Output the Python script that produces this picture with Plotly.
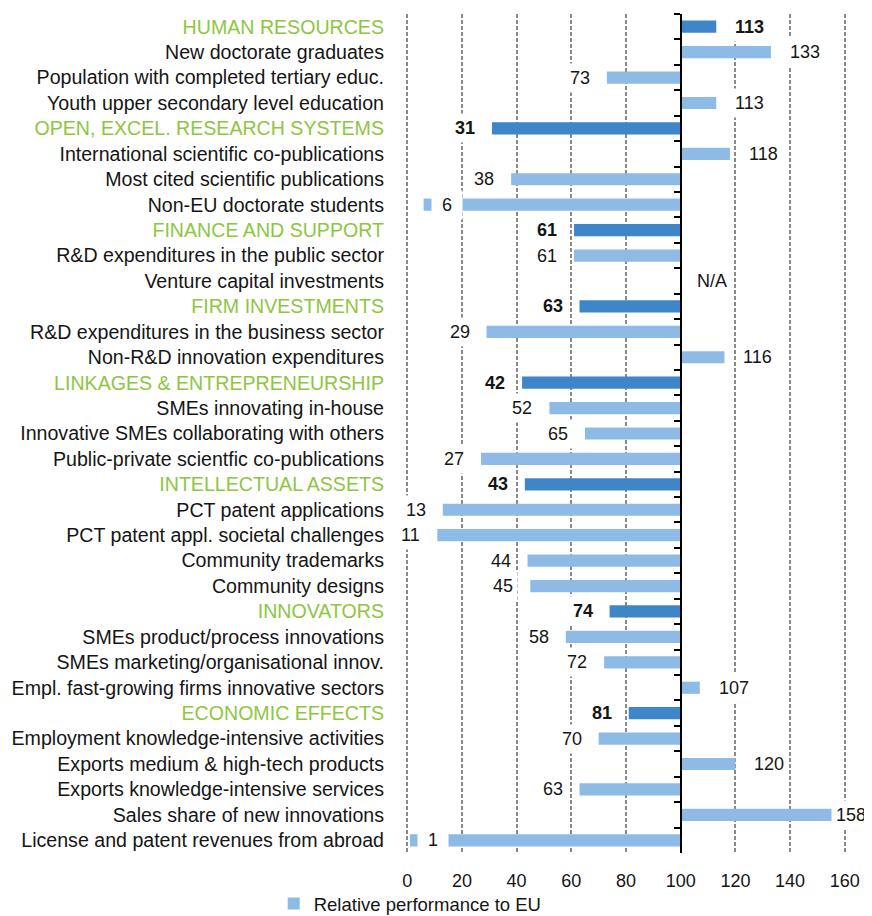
import plotly.graph_objects as go

categories = [
    "HUMAN RESOURCES",
    "New doctorate graduates",
    "Population with completed tertiary educ.",
    "Youth upper secondary level education",
    "OPEN, EXCEL. RESEARCH SYSTEMS",
    "International scientific co-publications",
    "Most cited scientific publications",
    "Non-EU doctorate students",
    "FINANCE AND SUPPORT",
    "R&D expenditures in the public sector",
    "Venture capital investments",
    "FIRM INVESTMENTS",
    "R&D expenditures in the business sector",
    "Non-R&D innovation expenditures",
    "LINKAGES & ENTREPRENEURSHIP",
    "SMEs innovating in-house",
    "Innovative SMEs collaborating with others",
    "Public-private scientfic co-publications",
    "INTELLECTUAL ASSETS",
    "PCT patent applications",
    "PCT patent appl. societal challenges",
    "Community trademarks",
    "Community designs",
    "INNOVATORS",
    "SMEs product/process innovations",
    "SMEs marketing/organisational innov.",
    "Empl. fast-growing firms innovative sectors",
    "ECONOMIC EFFECTS",
    "Employment knowledge-intensive activities",
    "Exports medium & high-tech products",
    "Exports knowledge-intensive services",
    "Sales share of new innovations",
    "License and patent revenues from abroad",
]

values = [113, 133, 73, 113, 31, 118, 38, 6, 61, 61, None, 63, 29, 116, 42, 52, 65, 27,
          43, 13, 11, 44, 45, 74, 58, 72, 107, 81, 70, 120, 63, 158, 1]

is_header = [True, False, False, False, True, False, False, False, True, False, False,
             True, False, False, True, False, False, False, True, False, False, False,
             False, True, False, False, False, True, False, False, False, False, False]

x_ticks = [0, 20, 40, 60, 80, 100, 120, 140, 160]
baseline = 100
legend_name = "Relative performance to EU"

DARK = "#3F86C8"
LIGHT = "#8EBBE5"
GREEN = "#8DC63F"
TXT = "#151515"
FONT = "Liberation Sans, Arial, sans-serif"
FS = 18
FS_CAT = 19.6
FS_LEG = 18.5

xmin, xmax = -3, 163

fig = go.Figure()

light_y = [c for c, v, h in zip(categories, values, is_header) if not h and v is not None]
light_x = [v - baseline for c, v, h in zip(categories, values, is_header) if not h and v is not None]
dark_y = [c for c, v, h in zip(categories, values, is_header) if h and v is not None]
dark_x = [v - baseline for c, v, h in zip(categories, values, is_header) if h and v is not None]

fig.add_trace(go.Bar(y=light_y, x=light_x, base=baseline, orientation="h",
                     marker=dict(color=LIGHT, line=dict(width=0)), width=0.48,
                     name=legend_name, showlegend=True, yaxis="y2", hoverinfo="skip"))
fig.add_trace(go.Bar(y=dark_y, x=dark_x, base=baseline, orientation="h",
                     marker=dict(color=DARK, line=dict(width=0)), width=0.48,
                     showlegend=False, yaxis="y2", hoverinfo="skip"))
fig.add_trace(go.Scatter(y=categories, x=[baseline] * len(categories), mode="markers",
                         marker=dict(opacity=0), showlegend=False, yaxis="y", hoverinfo="skip"))

annotations = []
for c, v, h in zip(categories, values, is_header):
    font = dict(family=FONT, size=FS, color=TXT)
    txt = "N/A" if v is None else (f"<b>{v}</b>" if h else str(v))
    base = dict(y=c, xref="x", yref="y", text=txt, showarrow=False, font=font,
                bgcolor="white", borderpad=4)
    if v is None:
        annotations.append(dict(base, x=baseline, xanchor="left", xshift=11))
    elif v < 10:
        # not enough room left of the bar: label sits over the bar
        annotations.append(dict(base, x=v, xanchor="left", xshift=7, width=22, align="center"))
    elif v < baseline:
        annotations.append(dict(base, x=v, xanchor="right", xshift=-12))
    elif v > 150:
        # not enough room right of the bar: label pinned to the right edge
        annotations.append(dict(base, x=xmax, xanchor="right", xshift=18))
    else:
        annotations.append(dict(base, x=v, xanchor="left", xshift=14))

ticktext = [f"<span style='color:{GREEN}'>{c}</span>" if h else c for c, h in zip(categories, is_header)]

fig.update_layout(
    width=864, height=908,
    margin=dict(l=391, r=19, t=6, b=63, autoexpand=False),
    paper_bgcolor="white", plot_bgcolor="white",
    barmode="overlay",
    font=dict(family=FONT, size=FS, color=TXT),
    xaxis=dict(range=[xmin, xmax], tickvals=x_ticks, showgrid=True, gridcolor="#8a8a8a",
               gridwidth=2, griddash="4px,2px", zeroline=False, showline=False, ticks="",
               tickfont=dict(size=FS, color=TXT), ticklabelstandoff=15),
    yaxis=dict(type="category", categoryorder="array", categoryarray=categories,
               range=[len(categories) - 0.5, -0.5], tickvals=categories, ticktext=ticktext,
               showgrid=False, zeroline=False, showline=False, ticks="",
               tickfont=dict(size=FS_CAT, color=TXT), ticklabelstandoff=14),
    yaxis2=dict(type="category", categoryorder="array", categoryarray=categories,
                range=[len(categories) - 0.5, -0.5], overlaying="y", anchor="free",
                position=(baseline - xmin) / (xmax - xmin), side="left",
                showline=True, linecolor="black", linewidth=2, ticks="outside",
                tickson="boundaries", ticklen=6, tickwidth=2, tickcolor="black",
                showticklabels=False, showgrid=False, zeroline=False),
    legend=dict(orientation="h", x=-0.276, y=-0.038, xanchor="left", yanchor="top",
                font=dict(size=FS_LEG, color=TXT), bgcolor="rgba(0,0,0,0)"),
    annotations=annotations,
)

fig.write_html("out.html")
